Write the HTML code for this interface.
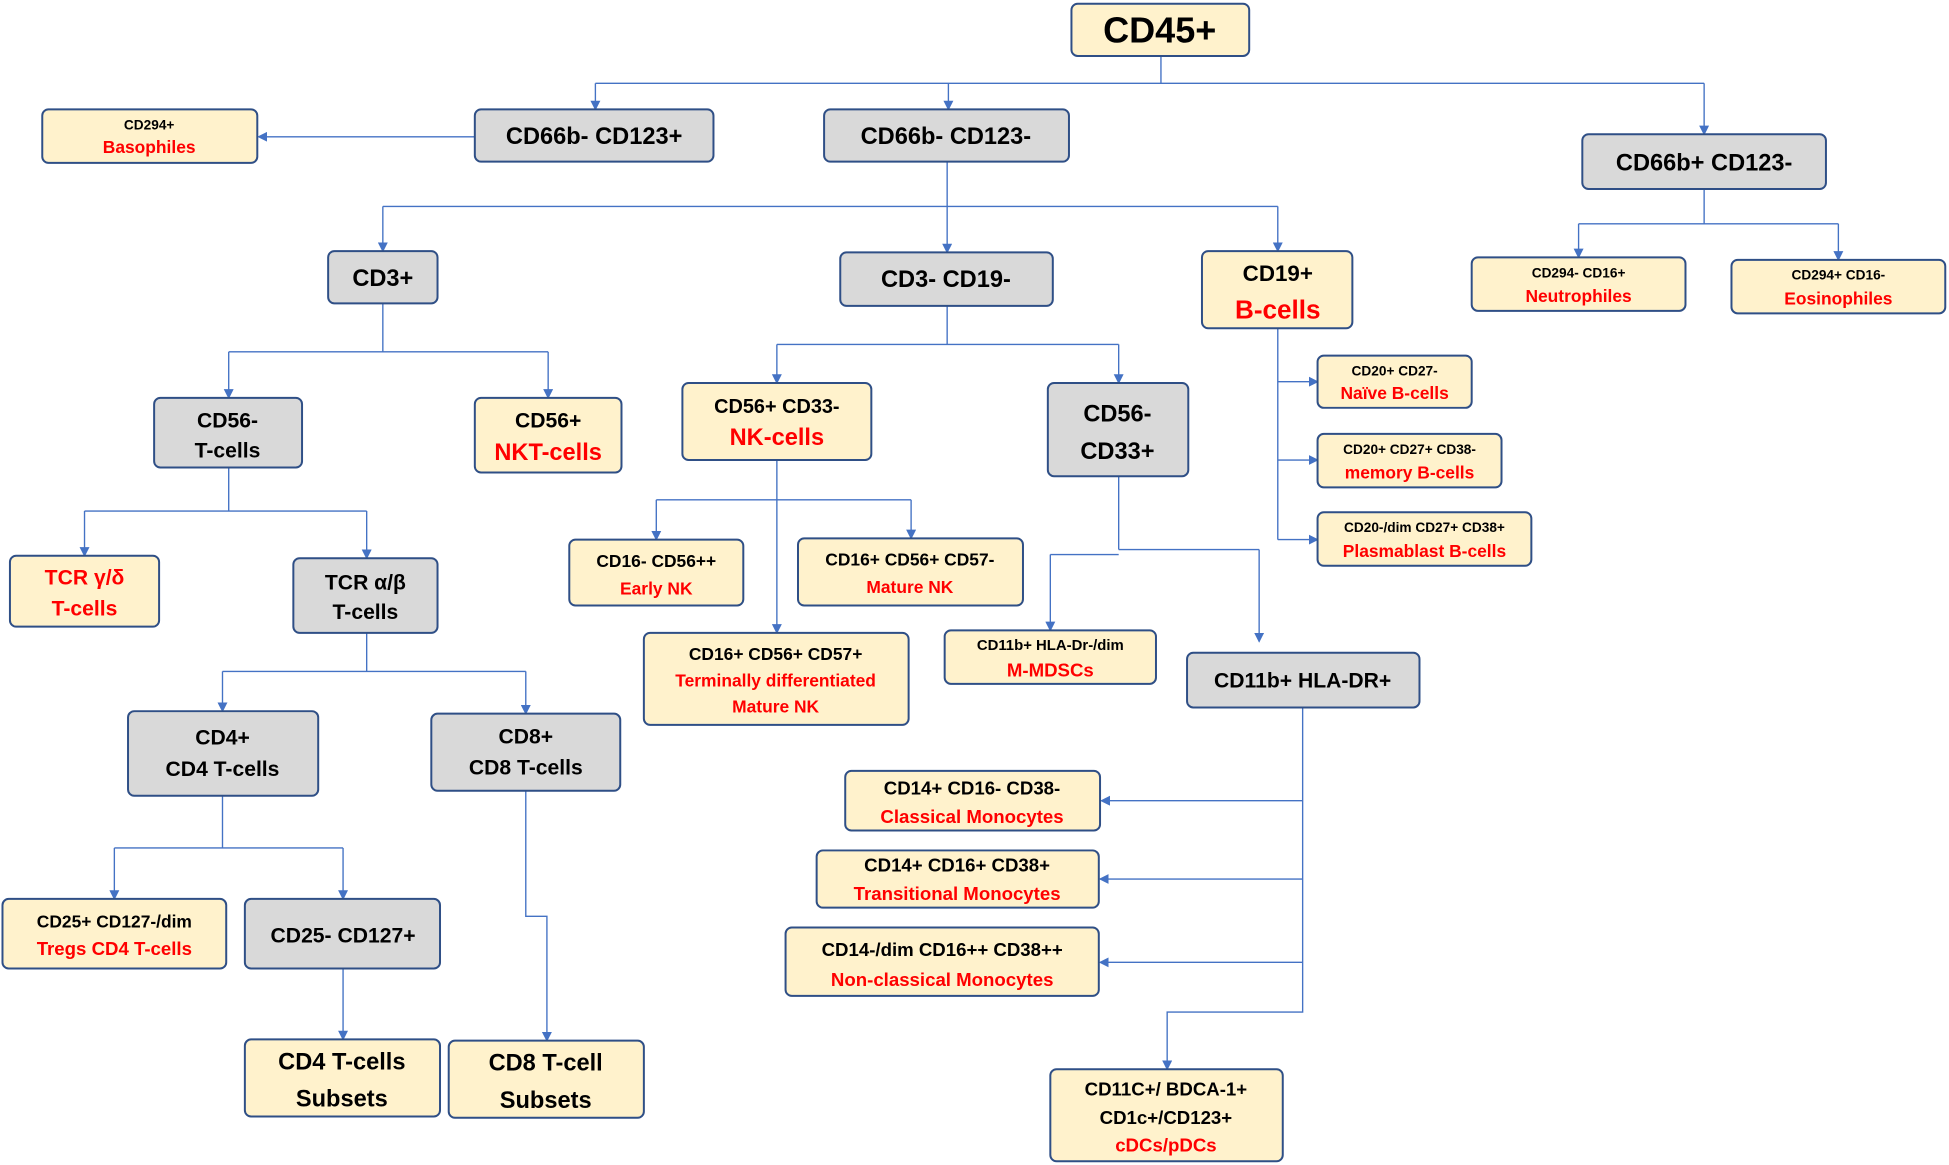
<!DOCTYPE html>
<html><head><meta charset="utf-8"><style>
html,body{margin:0;padding:0;background:#fff;}
svg{display:block;}
text{font-family:"Liberation Sans Narrow","Liberation Sans",sans-serif;font-weight:bold;text-anchor:middle;}
.b{fill:#000}.r{fill:#ff0000}
rect.y{fill:#fff2cc;stroke:#2f4f86;stroke-width:1.6}
rect.g{fill:#d9d9d9;stroke:#2f4f86;stroke-width:1.6}
path{fill:none;stroke:#4472c4;stroke-width:1.1}
</style></head><body>
<svg width="1949" height="1165" viewBox="0 0 1568 937" preserveAspectRatio="none">
<defs><marker id="a" markerWidth="8" markerHeight="8" refX="7" refY="4" orient="auto" markerUnits="userSpaceOnUse"><path d="M0,0 L8,4 L0,8 z" style="fill:#4472c4;stroke:none"/></marker></defs>
<!-- connectors -->
<path d="M934,45V67M479,67H1371"/>
<path d="M479,67V88" marker-end="url(#a)"/><path d="M763,67V88" marker-end="url(#a)"/><path d="M1371,67V108" marker-end="url(#a)"/>
<path d="M382,110H208" marker-end="url(#a)"/>
<path d="M762,130V166M308,166H1028"/>
<path d="M308,166V202" marker-end="url(#a)"/><path d="M762,166V203" marker-end="url(#a)"/><path d="M1028,166V202" marker-end="url(#a)"/>
<path d="M1371,152V180M1270,180H1479"/>
<path d="M1270,180V207" marker-end="url(#a)"/><path d="M1479,180V209" marker-end="url(#a)"/>
<path d="M308,244V283M184,283H441"/>
<path d="M184,283V320" marker-end="url(#a)"/><path d="M441,283V320" marker-end="url(#a)"/>
<path d="M762,246V277M625,277H900"/>
<path d="M625,277V308" marker-end="url(#a)"/><path d="M900,277V308" marker-end="url(#a)"/>
<path d="M1028,264V434"/>
<path d="M1028,307H1060" marker-end="url(#a)"/><path d="M1028,370H1060" marker-end="url(#a)"/><path d="M1028,434H1060" marker-end="url(#a)"/>
<path d="M184,376V411M68,411H295"/>
<path d="M68,411V447" marker-end="url(#a)"/><path d="M295,411V449" marker-end="url(#a)"/>
<path d="M625,370V509" marker-end="url(#a)"/>
<path d="M528,402H733"/>
<path d="M528,402V434" marker-end="url(#a)"/><path d="M733,402V433" marker-end="url(#a)"/>
<path d="M900,383V442M845,446H900M900,442H1013"/>
<path d="M845,446V507" marker-end="url(#a)"/><path d="M1013,442V516" marker-end="url(#a)"/>
<path d="M295,509V540M179,540H423"/>
<path d="M179,540V572" marker-end="url(#a)"/><path d="M423,540V574" marker-end="url(#a)"/>
<path d="M179,640V682M92,682H276"/>
<path d="M92,682V723" marker-end="url(#a)"/><path d="M276,682V723" marker-end="url(#a)"/>
<path d="M276,779V836" marker-end="url(#a)"/>
<path d="M423,636V737H440V837" marker-end="url(#a)"/>
<path d="M1048,569V814H939V860" marker-end="url(#a)"/>
<path d="M1048,644H886" marker-end="url(#a)"/><path d="M1048,707H885" marker-end="url(#a)"/><path d="M1048,774H885" marker-end="url(#a)"/>
<!-- boxes -->
<rect class="y" x="862" y="3" width="143" height="42" rx="5"/><text class="b" x="933" y="34" font-size="29">CD45+</text>
<rect class="g" x="382" y="88" width="192" height="42" rx="5"/><text class="b" x="478" y="116" font-size="19">CD66b- CD123+</text>
<rect class="y" x="34" y="88" width="173" height="43" rx="5"/><text class="b" x="120" y="104" font-size="11">CD294+</text><text class="r" x="120" y="123" font-size="14">Basophiles</text>
<rect class="g" x="663" y="88" width="197" height="42" rx="5"/><text class="b" x="761" y="116" font-size="19">CD66b- CD123-</text>
<rect class="g" x="1273" y="108" width="196" height="44" rx="5"/><text class="b" x="1371" y="137" font-size="19">CD66b+ CD123-</text>
<rect class="y" x="1184" y="207" width="172" height="43" rx="5"/><text class="b" x="1270" y="223" font-size="11">CD294- CD16+</text><text class="r" x="1270" y="243" font-size="14">Neutrophiles</text>
<rect class="y" x="1393" y="209" width="172" height="43" rx="5"/><text class="b" x="1479" y="225" font-size="11">CD294+ CD16-</text><text class="r" x="1479" y="245" font-size="14">Eosinophiles</text>
<rect class="g" x="264" y="202" width="88" height="42" rx="5"/><text class="b" x="308" y="230" font-size="19">CD3+</text>
<rect class="g" x="676" y="203" width="171" height="43" rx="5"/><text class="b" x="761" y="231" font-size="19">CD3- CD19-</text>
<rect class="y" x="967" y="202" width="121" height="62" rx="5"/><text class="b" x="1028" y="226" font-size="18">CD19+</text><text class="r" x="1028" y="256" font-size="21">B-cells</text>
<rect class="y" x="1060" y="286" width="124" height="42" rx="5"/><text class="b" x="1122" y="302" font-size="11">CD20+ CD27-</text><text class="r" x="1122" y="321" font-size="14">Naïve B-cells</text>
<rect class="y" x="1060" y="349" width="148" height="43" rx="5"/><text class="b" x="1134" y="365" font-size="11">CD20+ CD27+ CD38-</text><text class="r" x="1134" y="385" font-size="14">memory B-cells</text>
<rect class="y" x="1060" y="412" width="172" height="43" rx="5"/><text class="b" x="1146" y="428" font-size="11">CD20-/dim CD27+ CD38+</text><text class="r" x="1146" y="448" font-size="14">Plasmablast  B-cells</text>
<rect class="g" x="124" y="320" width="119" height="56" rx="5"/><text class="b" x="183" y="344" font-size="17">CD56-</text><text class="b" x="183" y="368" font-size="17">T-cells</text>
<rect class="y" x="382" y="320" width="118" height="60" rx="5"/><text class="b" x="441" y="344" font-size="17">CD56+</text><text class="r" x="441" y="370" font-size="19">NKT-cells</text>
<rect class="y" x="549" y="308" width="152" height="62" rx="5"/><text class="b" x="625" y="332" font-size="16">CD56+ CD33-</text><text class="r" x="625" y="358" font-size="19">NK-cells</text>
<rect class="g" x="843" y="308" width="113" height="75" rx="5"/><text class="b" x="899" y="339" font-size="19">CD56-</text><text class="b" x="899" y="369" font-size="19">CD33+</text>
<rect class="y" x="8" y="447" width="120" height="57" rx="5"/><text class="r" x="68" y="470" font-size="17">TCR γ/δ</text><text class="r" x="68" y="495" font-size="17">T-cells</text>
<rect class="g" x="236" y="449" width="116" height="60" rx="5"/><text class="b" x="294" y="474" font-size="17">TCR α/β</text><text class="b" x="294" y="498" font-size="17">T-cells</text>
<rect class="y" x="458" y="434" width="140" height="53" rx="5"/><text class="b" x="528" y="456" font-size="14">CD16- CD56++</text><text class="r" x="528" y="478" font-size="14">Early NK</text>
<rect class="y" x="642" y="433" width="181" height="54" rx="5"/><text class="b" x="732" y="455" font-size="14">CD16+ CD56+ CD57-</text><text class="r" x="732" y="477" font-size="14">Mature NK</text>
<rect class="y" x="518" y="509" width="213" height="74" rx="5"/><text class="b" x="624" y="531" font-size="14">CD16+ CD56+ CD57+</text><text class="r" x="624" y="552" font-size="14">Terminally differentiated</text><text class="r" x="624" y="573" font-size="14">Mature NK</text>
<rect class="y" x="760" y="507" width="170" height="43" rx="5"/><text class="b" x="845" y="523" font-size="12">CD11b+ HLA-Dr-/dim</text><text class="r" x="845" y="544" font-size="15">M-MDSCs</text>
<rect class="g" x="955" y="525" width="187" height="44" rx="5"/><text class="b" x="1048" y="553" font-size="17">CD11b+ HLA-DR+</text>
<rect class="g" x="103" y="572" width="153" height="68" rx="5"/><text class="b" x="179" y="599" font-size="17">CD4+</text><text class="b" x="179" y="624" font-size="17">CD4 T-cells</text>
<rect class="g" x="347" y="574" width="152" height="62" rx="5"/><text class="b" x="423" y="598" font-size="17">CD8+</text><text class="b" x="423" y="623" font-size="17">CD8 T-cells</text>
<rect class="y" x="680" y="620" width="205" height="48" rx="5"/><text class="b" x="782" y="639" font-size="15">CD14+ CD16- CD38-</text><text class="r" x="782" y="662" font-size="15">Classical Monocytes</text>
<rect class="y" x="657" y="684" width="227" height="46" rx="5"/><text class="b" x="770" y="701" font-size="15">CD14+ CD16+ CD38+</text><text class="r" x="770" y="724" font-size="15">Transitional Monocytes</text>
<rect class="y" x="632" y="746" width="252" height="55" rx="5"/><text class="b" x="758" y="769" font-size="15">CD14-/dim CD16++ CD38++</text><text class="r" x="758" y="793" font-size="15">Non-classical Monocytes</text>
<rect class="y" x="2" y="723" width="180" height="56" rx="5"/><text class="b" x="92" y="746" font-size="14">CD25+ CD127-/dim</text><text class="r" x="92" y="768" font-size="15">Tregs CD4 T-cells</text>
<rect class="g" x="197" y="723" width="157" height="56" rx="5"/><text class="b" x="276" y="758" font-size="17">CD25- CD127+</text>
<rect class="y" x="197" y="836" width="157" height="62" rx="5"/><text class="b" x="275" y="860" font-size="19">CD4 T-cells</text><text class="b" x="275" y="890" font-size="19">Subsets</text>
<rect class="y" x="361" y="837" width="157" height="62" rx="5"/><text class="b" x="439" y="861" font-size="19">CD8 T-cell</text><text class="b" x="439" y="891" font-size="19">Subsets</text>
<rect class="y" x="845" y="860" width="187" height="74" rx="5"/><text class="b" x="938" y="881" font-size="15">CD11C+/ BDCA-1+</text><text class="b" x="938" y="904" font-size="15">CD1c+/CD123+</text><text class="r" x="938" y="926" font-size="15">cDCs/pDCs</text>
</svg>
</body></html>
